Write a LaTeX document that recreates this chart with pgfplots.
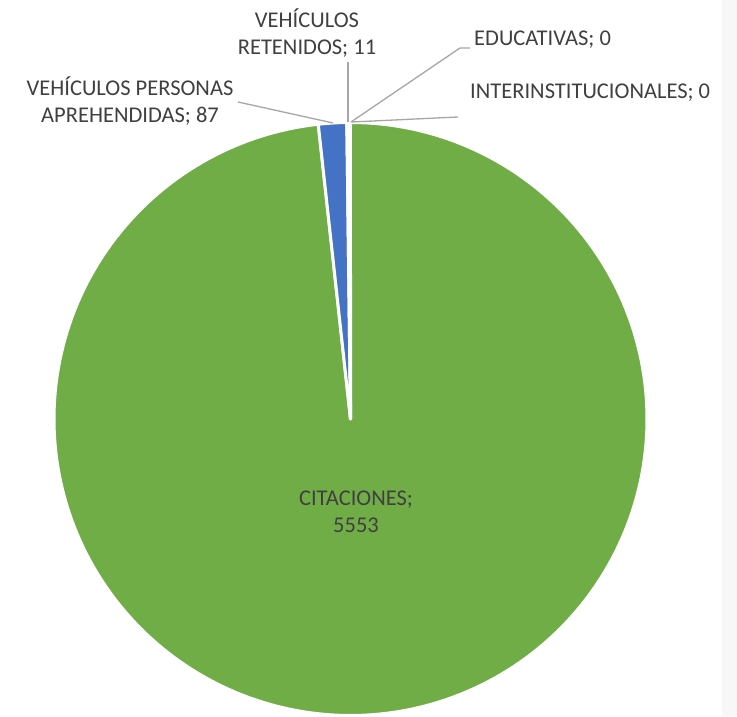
\documentclass[border=0pt]{standalone}
\usepackage{pgfplots}
\pgfplotsset{compat=1.18}
\usepackage{pgfplotstable}
\usepackage{fontspec}
\setmainfont{Carlito}
\definecolor{pgreen}{HTML}{70AD47}
\definecolor{pblue}{HTML}{4472C4}
\definecolor{ltxt}{HTML}{404040}
\definecolor{lead}{HTML}{A6A6A6}
\tikzset{lbl/.style={font=\fontsize{22.5}{27}\selectfont, text=ltxt}}

\pgfplotstableread{
label value
Citaciones 5553
Aprehendidas 87
Retenidos 11
Educativas 0
Interinstitucionales 0
}\piedata

\pgfplotstablegetelem{0}{value}\of\piedata \let\vA\pgfplotsretval
\pgfplotstablegetelem{1}{value}\of\piedata \let\vB\pgfplotsretval
\pgfplotstablegetelem{2}{value}\of\piedata \let\vC\pgfplotsretval
\pgfplotstablegetelem{3}{value}\of\piedata \let\vD\pgfplotsretval
\pgfplotstablegetelem{4}{value}\of\piedata \let\vE\pgfplotsretval
\pgfmathsetmacro\tot{\vA+\vB+\vC+\vD+\vE}
% Excel: clockwise from 12 o'clock
\pgfmathsetmacro\aS{90}
\pgfmathsetmacro\aA{90-360*(\vA/\tot)}
\pgfmathsetmacro\aB{\aA-360*(\vB/\tot)}
\pgfmathsetmacro\aC{\aB-360*(\vC/\tot)}
\def\cx{350.5}
\def\cy{297}
\def\rr{296.5}

\begin{document}
\begin{tikzpicture}
\begin{axis}[
  width=737pt, height=716pt, scale only axis,
  xmin=0, xmax=737, ymin=0, ymax=716,
  hide axis, clip=false,
]
\fill[white] (axis cs:0,0) rectangle (axis cs:737,716);
\fill[black!3] (axis cs:722,0) rectangle (axis cs:737,716);

\addplot[fill=pgreen, draw=white, line width=3pt, line join=round, domain=\aA:\aS, samples=240, variable=\t]
  ({\cx+\rr*cos(\t)},{\cy+\rr*sin(\t)}) -- (axis cs:\cx,\cy) -- cycle;
\addplot[fill=pblue, draw=white, line width=3pt, line join=round, domain=\aB:\aA, samples=20, variable=\t]
  ({\cx+\rr*cos(\t)},{\cy+\rr*sin(\t)}) -- (axis cs:\cx,\cy) -- cycle;
\addplot[fill=white, draw=white, line width=3pt, line join=round, domain=\aC:\aB, samples=5, variable=\t]
  ({\cx+\rr*cos(\t)},{\cy+\rr*sin(\t)}) -- (axis cs:\cx,\cy) -- cycle;

% leader lines
\draw[lead, line width=1.3pt] (axis cs:238,614) -- (axis cs:333,593);
\draw[lead, line width=1.3pt] (axis cs:348,654) -- (axis cs:348,594);
\draw[lead, line width=1.3pt] (axis cs:351,594) -- (axis cs:460,668) -- (axis cs:470,668);
\draw[lead, line width=1.3pt] (axis cs:352,594) -- (axis cs:458,599);

% labels
\node[lbl, align=center] at (axis cs:130,615) {VEHÍCULOS PERSONAS\\APREHENDIDAS; 87};
\node[lbl, align=center] at (axis cs:307,683) {VEHÍCULOS\\RETENIDOS; 11};
\node[lbl, anchor=west, inner sep=0pt] at (axis cs:474,676) {EDUCATIVAS; 0};
\node[lbl, anchor=west, inner sep=0pt] at (axis cs:470,623) {INTERINSTITUCIONALES; 0};
\node[lbl, align=center] at (axis cs:356,204) {CITACIONES;\\5553};
\end{axis}
\end{tikzpicture}
\end{document}
